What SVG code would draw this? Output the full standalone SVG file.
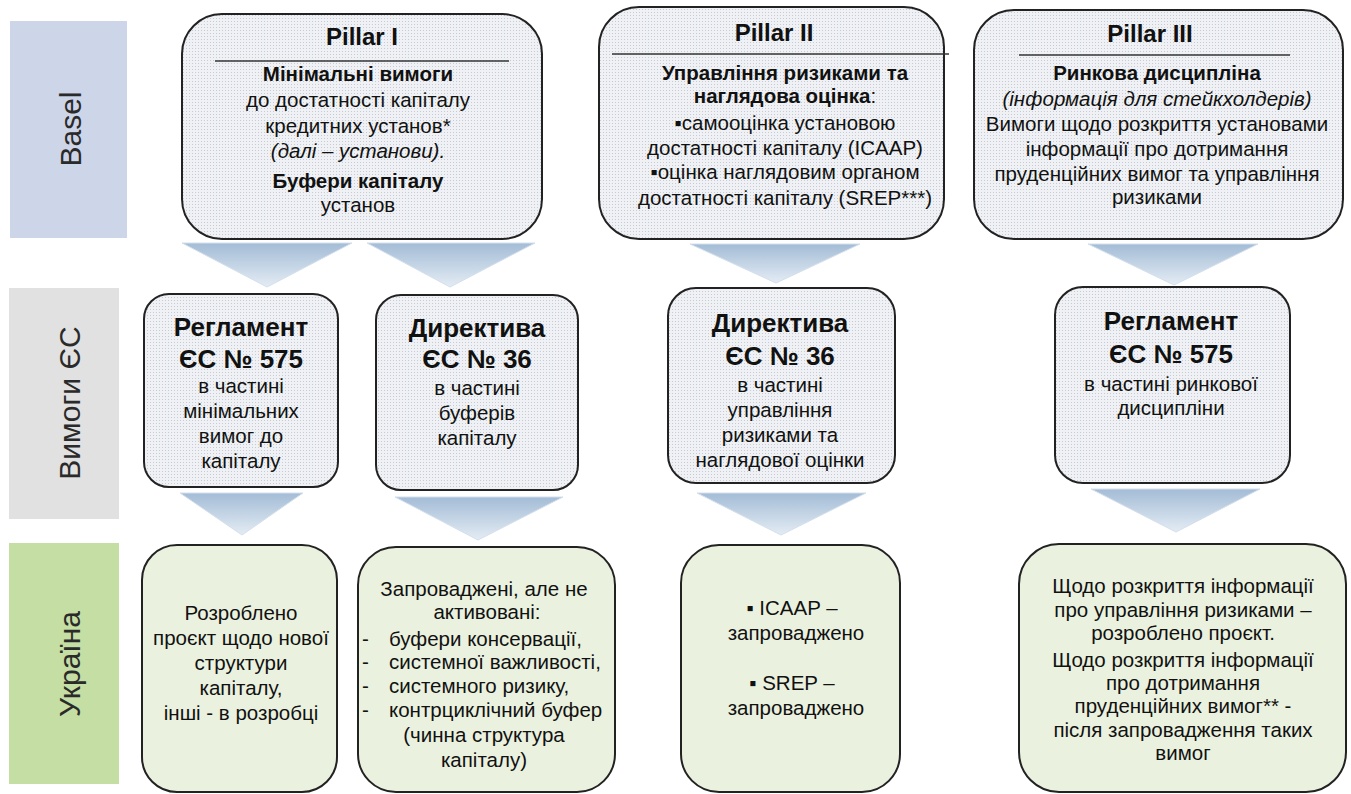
<svg xmlns="http://www.w3.org/2000/svg" width="1351" height="794" viewBox="0 0 1351 794">
<defs>
<pattern id="dots" width="3" height="3" patternUnits="userSpaceOnUse"><rect width="3" height="3" fill="#eff1f4"/><rect width="1" height="1" fill="#c6cbd3"/></pattern>
<linearGradient id="arr" x1="0" y1="0" x2="0" y2="1"><stop offset="0" stop-color="#a3bcd6"/><stop offset="1" stop-color="#e4ecf4"/></linearGradient>
<style>
text{font-family:"Liberation Sans",Arial,sans-serif;fill:#111;text-anchor:middle}
.lab{font-size:30px;fill:#2a2a2a}
.pil{font-size:24px;font-weight:bold}
.b{font-size:20.5px}
.bb{font-size:20.5px;font-weight:bold}
.it{font-style:italic}
.h{font-size:26px;font-weight:bold}
.box{fill:url(#dots);stroke:#222;stroke-width:2}
.gbox{fill:#ebf1df;stroke:#222;stroke-width:2}
.sep{stroke:#333;stroke-width:1.5}
.arrow{fill:url(#arr);stroke:#d3dfeb;stroke-width:1}
.st{text-anchor:start}
</style>
</defs>
<rect width="1351" height="794" fill="#fff"/>

<g id="label-basel"><rect x="10" y="21" width="117" height="217" fill="#cdd5e8"/><text class="lab" transform="translate(81,129) rotate(-90)">Basel</text></g>
<g id="label-eu"><rect x="9" y="288" width="110" height="231" fill="#e1e1e1"/><text class="lab" transform="translate(80,403) rotate(-90)">Вимоги ЄС</text></g>
<g id="label-ua"><rect x="9" y="543" width="110" height="241" fill="#c4dea3"/><text class="lab" transform="translate(80,664) rotate(-90)">Україна</text></g>

<g id="pillar1">
<rect class="box" x="182" y="14" width="360" height="225" rx="40"/>
<text class="pil" x="362" y="45">Pillar I</text>
<line class="sep" x1="215" y1="61" x2="509" y2="61"/>
<text class="bb" x="358" y="81">Мінімальні вимоги</text>
<text class="b" x="358" y="107">до достатності капіталу</text>
<text class="b" x="358" y="133">кредитних установ*</text>
<text class="b it" x="358" y="158">(далі – установи).</text>
<text class="bb" x="358" y="188">Буфери капіталу</text>
<text class="b" x="358" y="212">установ</text>
</g>

<g id="pillar2">
<rect class="box" x="599" y="7" width="345" height="232" rx="40"/>
<text class="pil" x="774" y="41">Pillar II</text>
<line class="sep" x1="612" y1="54" x2="949" y2="54"/>
<text class="bb" x="785" y="80">Управління ризиками та</text>
<text class="bb" x="785" y="103">наглядова оцінка<tspan font-weight="normal">:</tspan></text>
<text class="b" x="785" y="130">▪самооцінка установою</text>
<text class="b" x="785" y="155">достатності капіталу (ICAAP)</text>
<text class="b" x="785" y="179">▪оцінка наглядовим органом</text>
<text class="b" x="785" y="205">достатності капіталу (SREP***)</text>
</g>

<g id="pillar3">
<rect class="box" x="974" y="10" width="369" height="229" rx="40"/>
<text class="pil" x="1150" y="42">Pillar III</text>
<line class="sep" x1="1019" y1="55" x2="1290" y2="55"/>
<text class="bb" x="1157" y="80">Ринкова дисципліна</text>
<text class="b it" x="1157" y="106">(інформація для стейкхолдерів)</text>
<text class="b" x="1157" y="131">Вимоги щодо розкриття установами</text>
<text class="b" x="1157" y="156">інформації про дотримання</text>
<text class="b" x="1157" y="181">пруденційних вимог та управління</text>
<text class="b" x="1157" y="204">ризиками</text>
</g>

<g id="eu-reg575-min">
<rect class="box" x="144" y="294" width="194" height="193" rx="25"/>
<text class="h" x="241" y="336">Регламент</text>
<text class="h" x="241" y="368">ЄС № 575</text>
<text class="b" x="241" y="393">в частині</text>
<text class="b" x="241" y="418">мінімальних</text>
<text class="b" x="241" y="443">вимог до</text>
<text class="b" x="241" y="468">капіталу</text>
</g>

<g id="eu-dir36-buf">
<rect class="box" x="376" y="295" width="202" height="195" rx="25"/>
<text class="h" x="477" y="337">Директива</text>
<text class="h" x="477" y="368">ЄС № 36</text>
<text class="b" x="477" y="395">в частині</text>
<text class="b" x="477" y="420">буферів</text>
<text class="b" x="477" y="445">капіталу</text>
</g>

<g id="eu-dir36-risk">
<rect class="box" x="668" y="288" width="227" height="195" rx="28"/>
<text class="h" x="780" y="332">Директива</text>
<text class="h" x="780" y="365">ЄС № 36</text>
<text class="b" x="780" y="392">в частині</text>
<text class="b" x="780" y="417">управління</text>
<text class="b" x="780" y="442">ризиками та</text>
<text class="b" x="780" y="467">наглядової оцінки</text>
</g>

<g id="eu-reg575-mkt">
<rect class="box" x="1055" y="287" width="235" height="196" rx="28"/>
<text class="h" x="1171" y="330">Регламент</text>
<text class="h" x="1171" y="363">ЄС № 575</text>
<text class="b" x="1171" y="391">в частині ринкової</text>
<text class="b" x="1171" y="415">дисципліни</text>
</g>

<g id="ua-capital">
<rect class="gbox" x="142" y="545" width="195" height="247" rx="35"/>
<text class="b" x="241" y="620">Розроблено</text>
<text class="b" x="241" y="645">проєкт щодо нової</text>
<text class="b" x="241" y="670">структури</text>
<text class="b" x="241" y="695">капіталу,</text>
<text class="b" x="241" y="720">інші - в розробці</text>
</g>

<g id="ua-buffers">
<rect class="gbox" x="358" y="547" width="257" height="245" rx="38"/>
<text class="b" x="484" y="596">Запроваджені, але не</text>
<text class="b" x="487" y="619">активовані:</text>
<text class="b st" x="362" y="646">-</text><text class="b st" x="389" y="646">буфери консервації,</text>
<text class="b st" x="362" y="669">-</text><text class="b st" x="389" y="669">системної важливості,</text>
<text class="b st" x="362" y="693">-</text><text class="b st" x="389" y="693">системного ризику,</text>
<text class="b st" x="362" y="717">-</text><text class="b st" x="389" y="717">контрциклічний буфер</text>
<text class="b" x="484" y="742">(чинна структура</text>
<text class="b" x="484" y="767">капіталу)</text>
</g>

<g id="ua-icaap">
<rect class="gbox" x="681" y="545" width="219" height="247" rx="38"/>
<text class="b" x="792" y="615">▪ ICAAP –</text>
<text class="b" x="796" y="640">запроваджено</text>
<text class="b" x="792" y="690">▪ SREP –</text>
<text class="b" x="796" y="715">запроваджено</text>
</g>

<g id="ua-disclosure">
<rect class="gbox" x="1019" y="544" width="327" height="248" rx="40"/>
<text class="b" x="1183" y="593">Щодо розкриття інформації</text>
<text class="b" x="1183" y="617">про управління ризиками –</text>
<text class="b" x="1183" y="640">розроблено проєкт.</text>
<text class="b" x="1183" y="667">Щодо розкриття інформації</text>
<text class="b" x="1183" y="690">про дотримання</text>
<text class="b" x="1183" y="713">пруденційних вимог** -</text>
<text class="b" x="1183" y="737">після запровадження таких</text>
<text class="b" x="1183" y="760">вимог</text>
</g>

<g id="connectors">
<polygon class="arrow" points="182,243 352,243 267,287"/>
<polygon class="arrow" points="367,243 535,243 450,287"/>
<polygon class="arrow" points="690,244 860,244 776,283"/>
<polygon class="arrow" points="1088,244 1258,244 1174,285"/>
<polygon class="arrow" points="180,493 303,493 242,535"/>
<polygon class="arrow" points="395,497 563,497 478,540"/>
<polygon class="arrow" points="697,493 866,493 781,535"/>
<polygon class="arrow" points="1091,489 1260,489 1176,532"/>
</g>
</svg>
